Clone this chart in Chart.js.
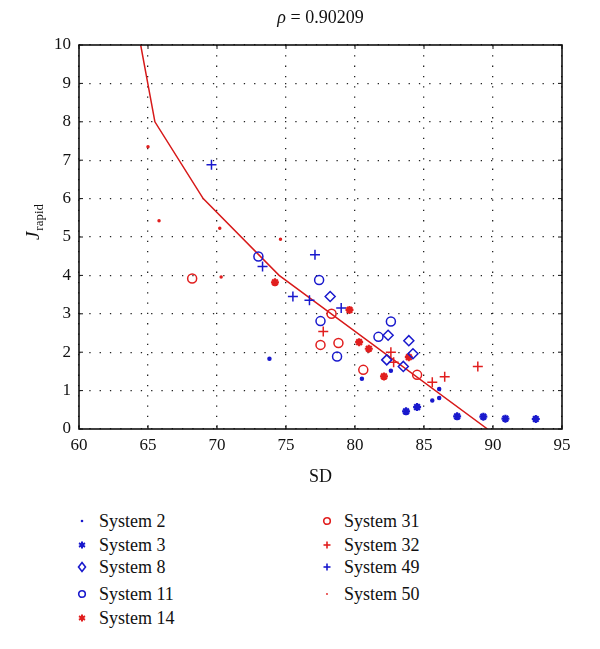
<!DOCTYPE html>
<html>
<head>
<meta charset="utf-8">
<script src="https://cdn.jsdelivr.net/npm/chart.js@4"></script>
<style>
  body { margin: 0; background: #fff; font-family: "Liberation Serif", "DejaVu Serif", serif; }
  #wrap { position: relative; width: 600px; height: 490px; }
  #legend { position: relative; width: 600px; height: 159px; font-size: 18px; color: #111; }
  .item { position: absolute; height: 22px; line-height: 22px; white-space: nowrap; }
  .item svg { position: absolute; left: -17px; top: 4px; }
  .item span { position: absolute; left: 7px; }
</style>
</head>
<body>
<div id="wrap"><canvas id="chart" width="600" height="490"></canvas></div>
<div id="legend"></div>
<script>
// values: [SD, J_rapid]
const sys2 = [[73.8, 1.83], [80.5, 1.31], [82.6, 1.52], [86.1, 1.04], [85.6, 0.74], [86.1, 0.81]];
const sys3 = [[83.7, 0.46], [84.5, 0.57], [87.4, 0.33], [89.3, 0.32], [90.9, 0.27], [93.1, 0.26]];
const sys8 = [[78.2, 3.45], [82.4, 2.44], [83.9, 2.30], [84.2, 1.96], [82.3, 1.80], [83.5, 1.63]];
const sys11 = [[73.0, 4.49], [77.4, 3.88], [77.5, 2.81], [78.7, 1.89], [82.6, 2.80], [81.7, 2.40]];
const sys14 = [[74.2, 3.82], [79.6, 3.10], [80.3, 2.26], [81.0, 2.09], [82.1, 1.37], [83.9, 1.87]];
const sys31 = [[68.2, 3.92], [78.3, 3.00], [77.5, 2.19], [78.8, 2.24], [80.6, 1.54], [84.5, 1.41]];
const sys32 = [[77.7, 2.54], [82.6, 2.00], [82.8, 1.74], [85.6, 1.22], [86.5, 1.36], [88.9, 1.63]];
const sys49 = [[69.6, 6.88], [73.3, 4.23], [77.1, 4.54], [75.5, 3.45], [76.7, 3.35], [79.0, 3.15]];
const sys50 = [[65.0, 7.35], [65.8, 5.42], [70.2, 5.23], [70.3, 3.96], [74.6, 4.94]];
const fitLine = [[64.47, 10], [65.5, 8], [69.0, 6], [74.5, 4], [89.6, 0]];

const xTicks = [60, 65, 70, 75, 80, 85, 90, 95];
const yTicks = [0, 1, 2, 3, 4, 5, 6, 7, 8, 9, 10];
const rhoText = "0.90209";

const BLUE = 'rgb(25,25,205)';
const RED = 'rgb(225,30,30)';
const FONT = '"Liberation Serif", "DejaVu Serif", serif';

function pts(arr) {
  return arr.map(p => ({ x: p[0], y: p[1] }));
}

// legend entries: label, colour, point style, radius, filled
const series = [
  { label: 'System 2', data: sys2, color: BLUE, style: 'circle', r: 1.5, fill: true },
  { label: 'System 3', data: sys3, color: BLUE, style: 'star', r: 4, fill: true },
  { label: 'System 8', data: sys8, color: BLUE, style: 'rectRot', r: 5, fill: false },
  { label: 'System 11', data: sys11, color: BLUE, style: 'circle', r: 4.5, fill: false },
  { label: 'System 14', data: sys14, color: RED, style: 'star', r: 4, fill: true },
  { label: 'System 31', data: sys31, color: RED, style: 'circle', r: 4.5, fill: false },
  { label: 'System 32', data: sys32, color: RED, style: 'cross', r: 5, fill: false },
  { label: 'System 49', data: sys49, color: BLUE, style: 'cross', r: 5, fill: false },
  { label: 'System 50', data: sys50, color: RED, style: 'circle', r: 1, fill: true }
];

const datasets = series.map(s => ({
  type: 'scatter',
  label: s.label,
  data: pts(s.data),
  pointStyle: s.style,
  pointRadius: s.r,
  pointHoverRadius: s.r,
  borderColor: s.color,
  backgroundColor: s.fill ? s.color : 'rgba(0,0,0,0)',
  pointBorderWidth: s.style === 'star' ? 2.2 : 1.5
}));

datasets.push({
  type: 'line',
  label: 'fit',
  data: pts(fitLine),
  borderColor: 'rgb(215,25,25)',
  borderWidth: 1.5,
  pointRadius: 0,
  fill: false,
  tension: 0
});

// frame, title and axis labels drawn on the canvas
const decor = {
  id: 'decor',
  afterDraw(chart) {
    const ctx = chart.ctx;
    const a = chart.chartArea;
    ctx.save();
    ctx.strokeStyle = '#111';
    ctx.lineWidth = 1.6;
    ctx.strokeRect(a.left, a.top, a.right - a.left, a.bottom - a.top);

    // small inward tick marks
    ctx.lineWidth = 1;
    const xs = chart.scales.x, ys = chart.scales.y;
    xTicks.forEach(v => {
      const px = xs.getPixelForValue(v);
      ctx.beginPath(); ctx.moveTo(px, a.bottom); ctx.lineTo(px, a.bottom - 4); ctx.stroke();
      ctx.beginPath(); ctx.moveTo(px, a.top); ctx.lineTo(px, a.top + 4); ctx.stroke();
    });
    yTicks.forEach(v => {
      const py = ys.getPixelForValue(v);
      ctx.beginPath(); ctx.moveTo(a.left, py); ctx.lineTo(a.left + 4, py); ctx.stroke();
      ctx.beginPath(); ctx.moveTo(a.right, py); ctx.lineTo(a.right - 4, py); ctx.stroke();
    });

    ctx.fillStyle = '#111';
    ctx.textBaseline = 'alphabetic';
    // title
    const rho = 'ρ';
    ctx.font = '18px ' + FONT;
    const rest = ' = ' + rhoText;
    const wRest = ctx.measureText(rest).width;
    ctx.font = 'italic 18px ' + FONT;
    const wRho = ctx.measureText(rho).width;
    let tx = (a.left + a.right) / 2 - (wRho + wRest) / 2;
    ctx.fillText(rho, tx, 23);
    ctx.font = '18px ' + FONT;
    ctx.fillText(rest, tx + wRho, 23);

    // x title
    ctx.textAlign = 'center';
    ctx.fillText('SD', (a.left + a.right) / 2, 482);

    // y title with subscript
    ctx.translate(39, 222);
    ctx.rotate(-Math.PI / 2);
    ctx.textAlign = 'left';
    ctx.font = 'italic 19px ' + FONT;
    const wJ = ctx.measureText('J').width;
    ctx.font = '13px ' + FONT;
    const wSub = ctx.measureText('rapid').width;
    const start = -(wJ + wSub + 1) / 2;
    ctx.font = 'italic 19px ' + FONT;
    ctx.fillText('J', start, 0);
    ctx.font = '13px ' + FONT;
    ctx.fillText('rapid', start + wJ + 1, 4);
    ctx.restore();
  }
};

const chart = new Chart(document.getElementById('chart'), {
  data: { datasets: datasets },
  options: {
    responsive: false,
    animation: false,
    layout: { padding: { top: 45, right: 38, left: 0, bottom: 0 } },
    plugins: {
      legend: { display: false },
      title: { display: false },
      tooltip: { enabled: false }
    },
    scales: {
      x: {
        type: 'linear',
        min: 60,
        max: 95,
        afterBuildTicks: s => { s.ticks = xTicks.map(v => ({ value: v })); },
        afterFit: s => { s.height = 61; },
        ticks: { color: '#111', font: { family: FONT, size: 17 }, padding: 6 },
        grid: { color: '#222', lineWidth: 1.3, drawTicks: false },
        border: { display: false, dash: [1.3, 9] }
      },
      y: {
        type: 'linear',
        min: 0,
        max: 10,
        afterBuildTicks: s => { s.ticks = yTicks.map(v => ({ value: v })); },
        afterFit: s => { s.width = 79; },
        ticks: { color: '#111', font: { family: FONT, size: 17 }, padding: 8 },
        grid: { color: '#222', lineWidth: 1.3, drawTicks: false },
        border: { display: false, dash: [1.3, 9] }
      }
    }
  },
  plugins: [decor]
});

// html legend in two columns
const legendPos = [
  [92, 20], [92, 44], [92, 66], [92, 93], [92, 117],
  [337, 20], [337, 44], [337, 66], [337, 93]
];

function markerSvg(s) {
  const c = s.color;
  let shape = '';
  if (s.label === 'System 2') shape = `<circle cx="7" cy="7" r="1.3" fill="${c}"/>`;
  else if (s.label === 'System 50') shape = `<circle cx="7" cy="7" r="0.9" fill="${c}"/>`;
  else if (s.style === 'star') shape = `<g stroke="${c}" stroke-width="2"><line x1="7" y1="3.5" x2="7" y2="10.5"/><line x1="4" y1="5.2" x2="10" y2="8.8"/><line x1="4" y1="8.8" x2="10" y2="5.2"/></g>`;
  else if (s.style === 'rectRot') shape = `<polygon points="7,2.5 10.5,7 7,11.5 3.5,7" fill="none" stroke="${c}" stroke-width="1.6"/>`;
  else if (s.style === 'circle') shape = `<circle cx="7" cy="7" r="3.3" fill="none" stroke="${c}" stroke-width="1.6"/>`;
  else if (s.style === 'cross') shape = `<g stroke="${c}" stroke-width="1.6"><line x1="7" y1="3.5" x2="7" y2="10.5"/><line x1="3.5" y1="7" x2="10.5" y2="7"/></g>`;
  return `<svg width="14" height="14">${shape}</svg>`;
}

const legend = document.getElementById('legend');
series.forEach((s, i) => {
  const d = document.createElement('div');
  d.className = 'item';
  d.style.left = legendPos[i][0] + 'px';
  d.style.top = legendPos[i][1] + 'px';
  d.innerHTML = markerSvg(s) + '<span>' + s.label + '</span>';
  legend.appendChild(d);
});
</script>
</body>
</html>
